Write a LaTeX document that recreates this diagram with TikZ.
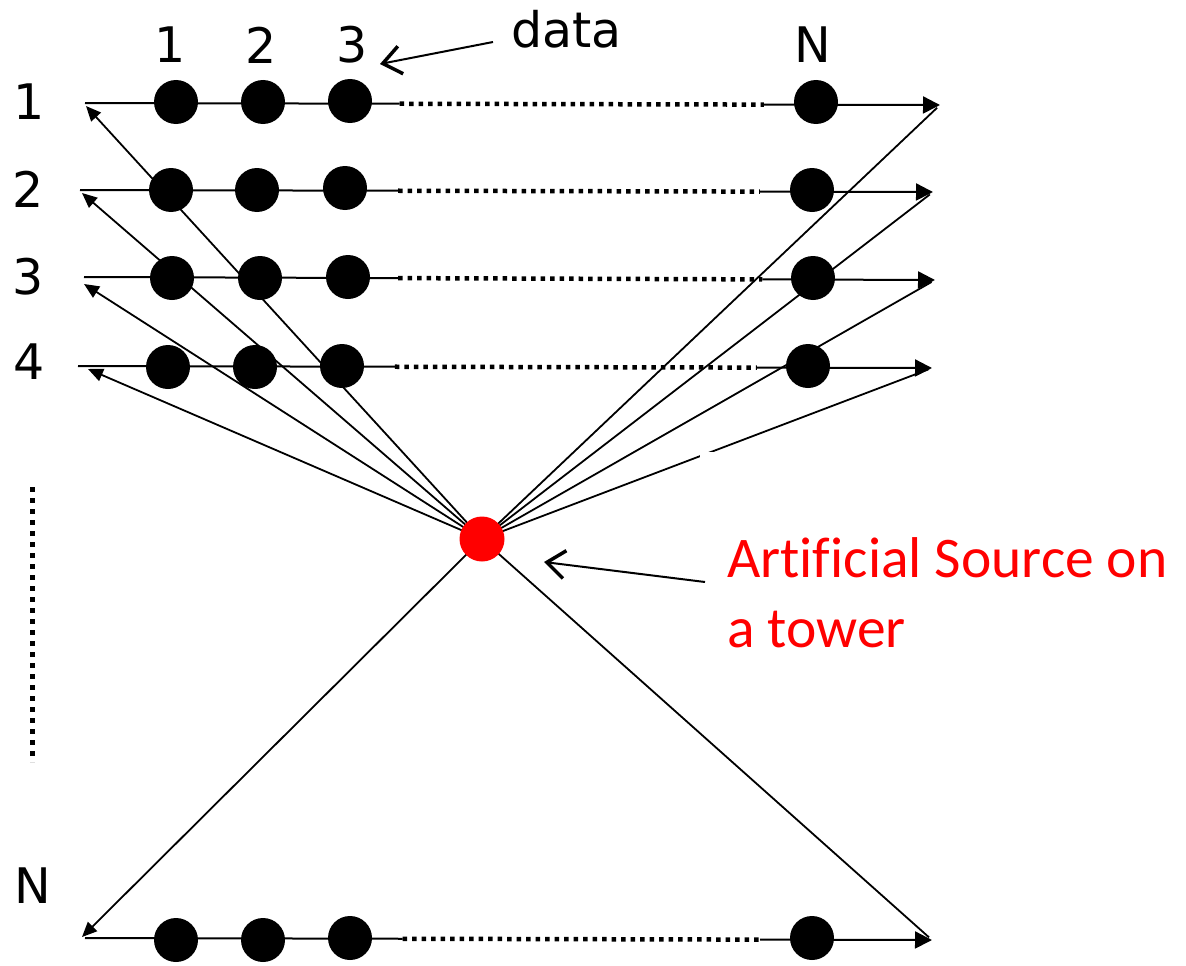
\documentclass[tikz,border=0pt]{standalone}
\usepackage{fontspec}
\setmainfont{DejaVu Sans}
\newfontfamily\calloutfont[Ligatures=CommonOff]{Carlito}
\usetikzlibrary{arrows.meta,calc}
\begin{document}
\begin{tikzpicture}[x=1pt,y=-1pt,
  dotnode/.style={circle,fill=black,minimum size=44pt,inner sep=0pt},
  srcnode/.style={circle,fill=red,minimum size=45pt,inner sep=0pt},
  numlbl/.style={font=\fontsize{49}{58}\selectfont,inner sep=0pt},
  wire/.style={line width=2pt},
  dotseg/.style={line width=4.5pt,dash pattern=on 4.5pt off 5pt},
  ray/.style={line width=1.8pt},
  headR/.style={-{Triangle[length=17pt,width=17pt]}},
  headL/.style={-{Triangle[length=15pt,width=13pt]}},
  barb/.style={line width=2pt,-{Straight Barb[length=18pt,width=28pt,line width=3.5pt]}}]
\useasboundingbox (0,0) rectangle (1186,966);
\fill[white] (0,0) rectangle (1186,966);

% row line endpoints
\foreach \r/\sx/\sy/\ex/\ey/\fa/\fb in
  {1/85/103/940/105/0.368/0.794,
   2/80/190/933/192/0.373/0.797,
   3/84/277/935/280/0.369/0.797,
   4/78/366/932/368/0.371/0.795,
   N/85/938/932/940/0.375/0.797}{
  \coordinate (s\r) at (\sx,\sy);
  \coordinate (e\r) at (\ex,\ey);
  \coordinate (pa\r) at ($(s\r)!\fa!(e\r)$);
  \coordinate (pb\r) at ($(s\r)!\fb!(e\r)$);
  \draw[wire] (s\r) -- (pa\r);
  \draw[dotseg] (pa\r) -- (pb\r);
  \draw[wire,headR] (pb\r) -- (e\r);
}

% left arrow tips of the rays
\coordinate (lt1) at (86,106);
\coordinate (lt2) at (82,193);
\coordinate (lt3) at (84,284);
\coordinate (lt4) at (88,369);
\coordinate (ltN) at (82,937);

\coordinate (srcc) at (482,539);
\foreach \r in {1,2,3,4,N}{
  \draw[ray,headL] (srcc) -- (lt\r);
  \draw[ray,shorten >=4pt] (srcc) -- (e\r);
}

% data points
\foreach \r/\a/\ay/\b/\by/\c/\cy/\n/\ny in
  {1/176/102/263/102/350/101/816/102,
   2/171/190/257/190/345/188/812/190,
   3/172/278/260/278/348/277/813/278,
   4/168/367/255/367/342/366/808/366,
   N/176/940/263/940/350/938/812/938}{
  \node[dotnode] (d\r a) at (\a,\ay) {};
  \node[dotnode] (d\r b) at (\b,\by) {};
  \node[dotnode] (d\r c) at (\c,\cy) {};
  \node[dotnode] (d\r n) at (\n,\ny) {};
}

\node[srcnode] (src) at (srcc) {};

% row labels
\node[numlbl] (rl1) at (29,102) {1};
\node[numlbl] (rl2) at (28,189) {2};
\node[numlbl] (rl3) at (28,277) {3};
\node[numlbl] (rl4) at (29,362) {4};
\node[numlbl] (rlN) at (33,886) {N};

% column labels
\node[numlbl] (cl1) at (170,45) {1};
\node[numlbl] (cl2) at (261,45) {2};
\node[numlbl] (cl3) at (352,45) {3};
\node[numlbl] (clN) at (813,45) {N};

% vertical dotted ellipsis
\coordinate (vt) at (32,487);
\coordinate (vb) at (32,762);
\draw[line width=5pt,dash pattern=on 5pt off 6pt] (vt) -- (vb);

% data label and arrow
\node[numlbl,anchor=base west] (data) at (511,48) {data};
\coordinate (dataFrom) at (493,42);
\coordinate (dataTo) at (380,64);
\draw[barb] (dataFrom) -- (dataTo);

% callout
\fill[white] (700,452) rectangle (1186,672);
\node[anchor=base west,align=left,inner sep=0pt,text=red,
      font=\calloutfont\fontsize{57.5}{70}\selectfont] (lab) at (727,647)
      {Artif\kern0pt icial Source on\\a tower};
\coordinate (labFrom) at (705,582);
\coordinate (labTo) at (544,562);
\draw[barb] (labFrom) -- (labTo);
\end{tikzpicture}
\end{document}
